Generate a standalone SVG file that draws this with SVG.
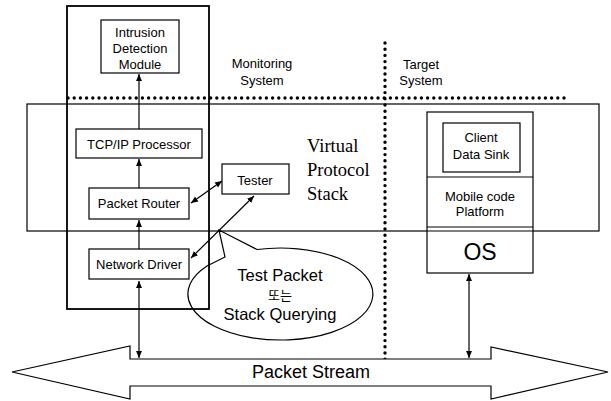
<svg xmlns="http://www.w3.org/2000/svg" width="611" height="401" viewBox="0 0 611 401">
<defs>
<marker id="ah" markerWidth="8" markerHeight="8" refX="7" refY="4" orient="auto-start-reverse" markerUnits="userSpaceOnUse">
<path d="M0,1 L7,4 L0,7 Z" fill="#000"/>
</marker>
<style>
.box{fill:#fff;stroke:#000;stroke-width:1.2}
.ln{fill:none;stroke:#000;stroke-width:1.2}
.dot{fill:none;stroke:#000;stroke-width:3.4;stroke-linecap:round;stroke-dasharray:0 6.2}
.t{font-family:"Liberation Sans",Arial,sans-serif;font-size:13px;text-anchor:middle;fill:#000}
.s{font-family:"Liberation Serif","Times New Roman",serif;font-size:18.5px;fill:#000}
.k{font-family:"Liberation Sans","Noto Sans CJK KR",sans-serif;text-anchor:middle;fill:#000}
.c{fill:none;stroke:#000;stroke-width:1.2;marker-end:url(#ah)}
.c2{fill:none;stroke:#000;stroke-width:1.2;marker-start:url(#ah);marker-end:url(#ah)}
</style>
</defs>
<rect width="611" height="401" fill="#fff"/>

<g id="vps-frame">
<rect x="27" y="104" width="572" height="127" class="ln"/>
<text x="307" y="152" class="s">Virtual</text>
<text x="307" y="176" class="s">Protocol</text>
<text x="307" y="200" class="s">Stack</text>
</g>

<g id="monitoring-frame">
<rect x="67" y="6" width="142" height="303" fill="none" stroke="#000" stroke-width="1.8"/>
<text x="262" y="68" class="t">Monitoring</text>
<text x="262" y="85" class="t">System</text>
</g>

<g id="target-label">
<text x="421" y="69" class="t">Target</text>
<text x="421" y="85" class="t">System</text>
</g>

<g id="dividers">
<line x1="68" y1="98" x2="564" y2="98" class="dot"/>
<line x1="385" y1="43" x2="385" y2="383" class="dot"/>
</g>

<g id="intrusion-detection">
<rect x="101" y="20" width="78" height="53" class="box"/>
<text x="140" y="37" class="t">Intrusion</text>
<text x="140" y="53" class="t">Detection</text>
<text x="140" y="69" class="t">Module</text>
</g>

<g id="tcpip">
<rect x="76" y="129" width="126" height="29" class="box"/>
<text x="139" y="149" class="t">TCP/IP Processor</text>
</g>

<g id="packet-router">
<rect x="89" y="188" width="100" height="31" class="box"/>
<text x="139" y="208" class="t">Packet Router</text>
</g>

<g id="network-driver">
<rect x="89" y="249" width="100" height="30" class="box"/>
<text x="139" y="269" class="t">Network Driver</text>
</g>

<g id="tester">
<rect x="222" y="164" width="67" height="30" class="box"/>
<text x="255" y="185" class="t">Tester</text>
</g>

<g id="target-stack">
<rect x="427" y="112" width="106" height="161" class="box"/>
<line x1="427" y1="177" x2="533" y2="177" class="ln"/>
<line x1="427" y1="227" x2="533" y2="227" class="ln"/>
<line x1="427" y1="231" x2="533" y2="231" class="ln"/>
<rect x="443" y="123" width="77" height="49" class="box"/>
<text x="481" y="142" class="t">Client</text>
<text x="481" y="159" class="t">Data Sink</text>
<text x="480" y="201" class="t">Mobile code</text>
<text x="480" y="216" class="t">Platform</text>
<text x="480" y="260" class="k" style="font-size:23px">OS</text>
</g>

<g id="callout">
<path d="M257,249.5 A92.5,46 0 1 1 207,266 L225,257 L219,230 Z" class="ln"/>
<text x="280" y="281" class="k" style="font-size:16.5px">Test Packet</text>
<text x="280" y="300" class="k" style="font-size:13px">또는</text>
<text x="280" y="320" class="k" style="font-size:16.5px">Stack Querying</text>
</g>

<g id="packet-stream">
<path d="M12,372 L130,346 L130,359 L491,359 L491,347 L608,372 L491,399 L491,386 L130,386 L130,399 Z" class="box"/>
<text x="311" y="378" class="k" style="font-size:18px">Packet Stream</text>
</g>

<g id="connectors">
<line x1="139" y1="129" x2="139" y2="74" class="c"/>
<line x1="139" y1="188" x2="139" y2="159" class="c"/>
<line x1="139" y1="249" x2="139" y2="220" class="c"/>
<line x1="139" y1="281" x2="139" y2="358" class="c2"/>
<line x1="469" y1="274" x2="469" y2="358" class="c2"/>
<line x1="191" y1="203" x2="222" y2="181" class="c2"/>
<line x1="191" y1="258" x2="254" y2="196" class="c2"/>
</g>
</svg>
